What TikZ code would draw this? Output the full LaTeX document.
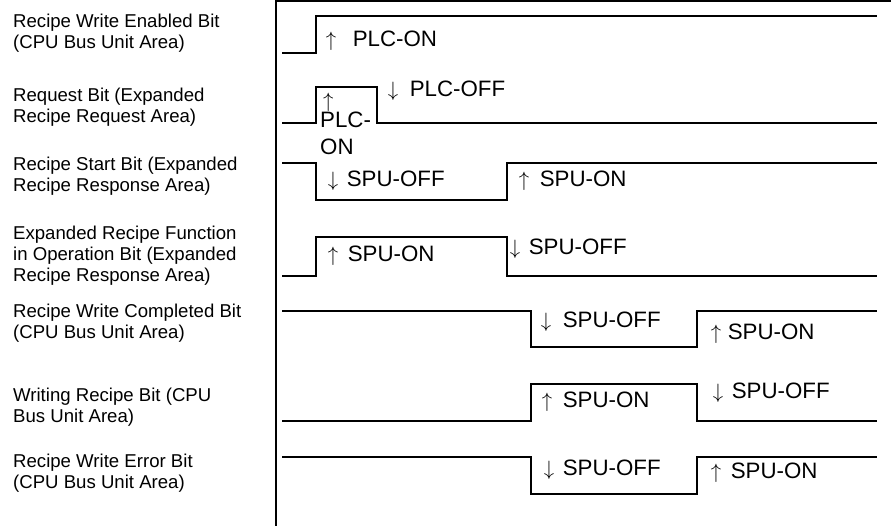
\documentclass[tikz,border=0pt]{standalone}
\usepackage{fontspec}
\setmainfont{Liberation Sans}
\begin{document}
\begin{tikzpicture}[x=1pt, y=-1pt,
  wave/.style={line width=2.6pt, line join=miter},
  sig/.style={anchor=base west, align=left, inner sep=0pt, font=\fontsize{18.6}{21}\selectfont},
  evt/.style={anchor=base west, inner sep=0pt, font=\fontsize{22.3}{24}\selectfont}]
  \useasboundingbox (0,0) rectangle (891,526);
  % frame
  \draw[line width=1.3pt] (276,526) -- (276,1) -- (891,1);
  % signal names (anchored on the last line)
  \node[sig] (wen) at (13,49) {Recipe Write Enabled Bit\\(CPU Bus Unit Area)};
  \node[sig] (req) at (13,123) {Request Bit (Expanded\\Recipe Request Area)};
  \node[sig] (sta) at (13,192) {Recipe Start Bit (Expanded\\Recipe Response Area)};
  \node[sig] (opr) at (13,282) {Expanded Recipe Function\\in Operation Bit (Expanded\\Recipe Response Area)};
  \node[sig] (cmp) at (13,339) {Recipe Write Completed Bit\\(CPU Bus Unit Area)};
  \node[sig] (wrt) at (13,422) {Writing Recipe Bit (CPU\\Bus Unit Area)};
  \node[sig] (err) at (13,488) {Recipe Write Error Bit\\(CPU Bus Unit Area)};
  % waveforms
  \draw[wave] (282,53) -- (316,53) -- (316,16) -- (877,16);
  \draw[wave] (282,123) -- (316,123) -- (316,87) -- (377,87) -- (377,123) -- (877,123);
  \draw[wave] (282,163) -- (316,163) -- (316,200) -- (507,200) -- (507,163) -- (877,163);
  \draw[wave] (282,276) -- (316,276) -- (316,237) -- (507,237) -- (507,276) -- (877,276);
  \draw[wave] (282,311) -- (531,311) -- (531,347) -- (697,347) -- (697,311) -- (877,311);
  \draw[wave] (282,421) -- (531,421) -- (531,384) -- (697,384) -- (697,421) -- (877,421);
  \draw[wave] (282,457) -- (531,457) -- (531,494) -- (697,494) -- (697,457) -- (877,457);
  % transitions
  \node[evt] (e1) at (325.6,47) {$\uparrow$\hspace{16.6pt}PLC-ON};
  \node[evt, align=left] (e2a) at (320,155) {\hspace{3pt}$\uparrow$\\[-4pt]PLC-\\[3pt]ON};
  \node[evt] (e2b) at (387.6,97) {$\downarrow$\hspace{11.6pt}PLC-OFF};
  \node[evt] (e3a) at (327.6,187) {$\downarrow$\hspace{8.6pt}SPU-OFF};
  \node[evt] (e3b) at (518.6,187) {$\uparrow$\hspace{10.6pt}SPU-ON};
  \node[evt] (e4a) at (327.6,262) {$\uparrow$\hspace{9.6pt}SPU-ON};
  \node[evt] (e4b) at (509.6,255) {$\downarrow$\hspace{8.6pt}SPU-OFF};
  \node[evt] (e5a) at (540.6,327) {$\downarrow$\hspace{11.6pt}SPU-OFF};
  \node[evt] (e5b) at (710.6,340) {$\uparrow$\hspace{6.6pt}SPU-ON};
  \node[evt] (e6a) at (541.6,407) {$\uparrow$\hspace{10.6pt}SPU-ON};
  \node[evt] (e6b) at (712.6,398) {$\downarrow$\hspace{8.6pt}SPU-OFF};
  \node[evt] (e7a) at (543.6,475) {$\downarrow$\hspace{8.6pt}SPU-OFF};
  \node[evt] (e7b) at (710.6,478) {$\uparrow$\hspace{9.6pt}SPU-ON};
\end{tikzpicture}
\end{document}
